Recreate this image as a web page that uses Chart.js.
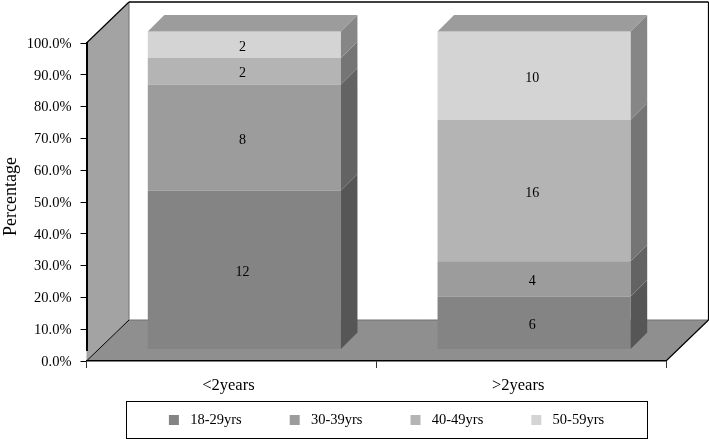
<!DOCTYPE html>
<html>
<head>
<meta charset="utf-8">
<title>Percentage by age group</title>
<script src="https://cdn.jsdelivr.net/npm/chart.js@4/dist/chart.umd.min.js"></script>
<style>
  html, body { margin: 0; padding: 0; background: #fff; }
  #wrap { width: 709px; height: 439px; }
</style>
</head>
<body>
<div id="wrap"><canvas id="chart"></canvas></div>
<script>
// data (counts printed on the bars)
const categories = ['<2years', '>2years'];
const ageGroups = ['18-29yrs', '30-39yrs', '40-49yrs', '50-59yrs'];
const age18to29 = [12, 6];
const age30to39 = [8, 4];
const age40to49 = [2, 16];
const age50to59 = [2, 10];

const frontColors = ['#848484', '#9c9c9c', '#b4b4b4', '#d4d4d4'];
const sideColors = ['#565656', '#636363', '#757575', '#868686'];
const topColor = '#9c9c9c';

const serif = 'Liberation Serif';
const counts = [age18to29, age30to39, age40to49, age50to59];
const totals = categories.map((c, i) => counts.reduce((sum, s) => sum + s[i], 0));

// 3d look: wall depth and how far the bars sit in front of / behind the axis plane
const wallX = 42.5, wallY = 41;
const barShiftX = 13, barShiftY = 11.5;
const barDepth = 16.5;

function poly(ctx, pts, color) {
  ctx.fillStyle = color;
  ctx.beginPath();
  pts.forEach((p, i) => i ? ctx.lineTo(p[0], p[1]) : ctx.moveTo(p[0], p[1]));
  ctx.closePath();
  ctx.fill();
}

function line(ctx, x1, y1, x2, y2, color, width) {
  ctx.strokeStyle = color;
  ctx.lineWidth = width;
  ctx.beginPath();
  ctx.moveTo(x1, y1);
  ctx.lineTo(x2, y2);
  ctx.stroke();
}

const walls = {
  id: 'walls',
  afterLayout(chart) {
    // put the legend where the reference has it
    const lg = chart.legend;
    lg.left = 82;
    lg.right = 687;
    lg.top = 367;
    lg.bottom = 439;
    // room for the category labels, they get clipped to the scale box
    chart.scales.x.bottom = 400;
    // the axis title sits a bit above the middle of the axis
    chart.scales.y.bottom -= 11;
  },
  beforeDraw(chart) {
    const ctx = chart.ctx;
    const a = chart.chartArea;
    ctx.save();
    // side wall and floor
    poly(ctx, [[a.left, a.top], [a.left + wallX, a.top - wallY], [a.left + wallX, a.bottom - wallY], [a.left, a.bottom]], '#a3a3a3');
    poly(ctx, [[a.left, a.bottom], [a.left + wallX, a.bottom - wallY], [a.right + wallX, a.bottom - wallY], [a.right, a.bottom]], '#8f8f8f');
    line(ctx, a.left + wallX, a.top - wallY, a.left + wallX, a.bottom - wallY, '#707070', 1);
    line(ctx, a.left + wallX, a.bottom - wallY, a.right + wallX, a.bottom - wallY, '#707070', 1);
    // black frame
    line(ctx, a.left, a.top, a.left + wallX, a.top - wallY, '#000', 1.2);
    line(ctx, a.left + wallX, a.top - wallY, a.right + wallX, a.top - wallY, '#000', 1.4);
    line(ctx, a.right + wallX, a.top - wallY, a.right + wallX, a.bottom - wallY, '#000', 1.2);
    line(ctx, a.right + wallX, a.bottom - wallY, a.right, a.bottom, '#000', 1.2);
    line(ctx, a.left, a.bottom, a.left + wallX, a.bottom - wallY, '#000', 1);
    ctx.restore();
  },
  beforeDatasetsDraw(chart) {
    chart.ctx.save();
    chart.ctx.translate(barShiftX, -barShiftY);
  },
  afterDatasetsDraw(chart) {
    const ctx = chart.ctx;
    const last = chart.data.datasets.length - 1;
    // right side of every segment, then the top of the stack
    chart.data.datasets.forEach((ds, d) => {
      chart.getDatasetMeta(d).data.forEach(bar => {
        const r = bar.x + bar.width / 2;
        const l = bar.x - bar.width / 2;
        poly(ctx, [[r, bar.y], [r + barDepth, bar.y - barDepth], [r + barDepth, bar.base - barDepth], [r, bar.base]], sideColors[d]);
        if (d === last) {
          poly(ctx, [[l, bar.y], [l + barDepth, bar.y - barDepth], [r + barDepth, bar.y - barDepth], [r, bar.y]], topColor);
        }
      });
    });
    ctx.restore();
  },
  afterDraw(chart) {
    const ctx = chart.ctx;
    ctx.save();
    // numbers on the bars
    ctx.fillStyle = '#000';
    ctx.font = '14px "' + serif + '"';
    ctx.textAlign = 'center';
    ctx.textBaseline = 'middle';
    chart.data.datasets.forEach((ds, d) => {
      chart.getDatasetMeta(d).data.forEach((bar, i) => {
        ctx.fillText(counts[d][i], bar.x + barShiftX - 2, (bar.y + bar.base) / 2 - barShiftY + 2.5);
      });
    });
    // legend frame
    ctx.strokeStyle = '#000';
    ctx.lineWidth = 1;
    ctx.strokeRect(126.5, 401.5, 521, 37);
    ctx.restore();
  }
};

new Chart(document.getElementById('chart'), {
  type: 'bar',
  data: {
    labels: categories,
    datasets: ageGroups.map((name, d) => ({
      label: name,
      data: counts[d].map((v, i) => v / totals[i] * 100),
      backgroundColor: frontColors[d],
      borderWidth: 0,
      clip: false,
      barPercentage: 2 / 3,
      categoryPercentage: 1
    }))
  },
  options: {
    responsive: true,
    maintainAspectRatio: false,
    animation: false,
    layout: { padding: { top: 43, right: 43, left: 0, bottom: 0 } },
    plugins: {
      tooltip: { enabled: false },
      legend: {
        position: 'bottom',
        labels: {
          color: '#000',
          font: { family: serif, size: 14.5 },
          boxWidth: 18,
          boxHeight: 18,
          padding: 44,
          generateLabels: chart => chart.data.datasets.map((ds, d) => ({
            text: ds.label,
            fillStyle: frontColors[d],
            strokeStyle: '#fff',
            lineWidth: 8,
            datasetIndex: d,
            hidden: false
          }))
        }
      }
    },
    scales: {
      x: {
        stacked: true,
        afterFit: s => { s.height = 6; },
        border: { color: '#000', width: 1.5 },
        grid: { drawOnChartArea: false, color: '#333', tickLength: 7 },
        ticks: { color: '#000', padding: 8, labelOffset: -3, font: { family: serif, size: 16.5 } }
      },
      y: {
        stacked: true,
        min: 0,
        max: 100,
        afterFit: s => { s.width = 86.5; },
        title: { display: true, text: 'Percentage', color: '#000', padding: { top: 0, bottom: 0 }, font: { family: serif, size: 18 } },
        border: { color: '#000', width: 2 },
        grid: { drawOnChartArea: false, color: '#000', tickLength: 6 },
        ticks: { color: '#000', stepSize: 10, padding: 9, labelOffset: 1, font: { family: serif, size: 14.5 }, callback: v => v.toFixed(1) + '%' }
      }
    }
  },
  plugins: [walls]
});
</script>
</body>
</html>
